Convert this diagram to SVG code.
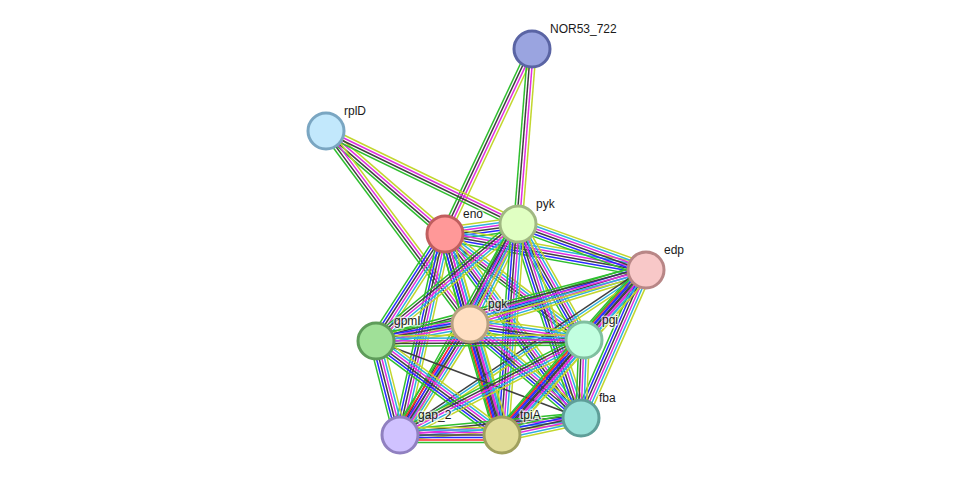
<svg xmlns="http://www.w3.org/2000/svg" width="976" height="481" viewBox="0 0 976 481">
<style>
.g{stroke:#2fbf2f}.r{stroke:#ff2a2a}.b{stroke:#2a2aff}.k{stroke:#404040}.m{stroke:#e02ee0}.c{stroke:#2eb0e0}.y{stroke:#c2d62e}
defs line{stroke-width:1.5;fill:none}
.nd{stroke-width:3}
.lb{font-family:"Liberation Sans",Arial,sans-serif;font-size:12px;fill:#1a1a1a;stroke:#fff;stroke-width:3;stroke-opacity:0.6;paint-order:stroke;stroke-linejoin:round}
</style>
<defs>
<g id="s4"><line class="g" x2="1" y1="4.2" y2="4.2"/><line class="k" x2="1" y1="1.4" y2="1.4"/><line class="m" x2="1" y1="-1.4" y2="-1.4"/><line class="y" x2="1" y1="-4.2" y2="-4.2"/></g>
<g id="s3"><line class="k" x2="1" y1="2.5" y2="2.5"/><line class="c" x2="1" y1="0" y2="0"/><line class="y" x2="1" y1="-2.5" y2="-2.5"/></g>
<g id="s1"><line class="k" x2="1" y1="0" y2="0"/></g>
<g id="s5"><line class="g" x2="1" y1="5.2" y2="5.2"/><line class="k" x2="1" y1="2.6" y2="2.6"/><line class="m" x2="1" y1="0" y2="0"/><line class="c" x2="1" y1="-2.6" y2="-2.6"/><line class="y" x2="1" y1="-5.2" y2="-5.2"/></g>
<g id="s6"><line class="g" x2="1" y1="6.5" y2="6.5"/><line class="b" x2="1" y1="3.9" y2="3.9"/><line class="k" x2="1" y1="1.3" y2="1.3"/><line class="m" x2="1" y1="-1.3" y2="-1.3"/><line class="c" x2="1" y1="-3.9" y2="-3.9"/><line class="y" x2="1" y1="-6.5" y2="-6.5"/></g>
<g id="s7"><line class="g" x2="1" y1="7.5" y2="7.5"/><line class="r" x2="1" y1="5" y2="5"/><line class="b" x2="1" y1="2.5" y2="2.5"/><line class="k" x2="1" y1="0" y2="0"/><line class="m" x2="1" y1="-2.5" y2="-2.5"/><line class="c" x2="1" y1="-5" y2="-5"/><line class="y" x2="1" y1="-7.5" y2="-7.5"/></g>
</defs>
<rect width="976" height="481" fill="#fff"/>
<g id="connectors">
<use href="#s4" transform="translate(532 49) rotate(115.19) scale(204.4 1)"/>
<use href="#s4" transform="translate(532 49) rotate(94.57) scale(175.56 1)"/>
<use href="#s4" transform="translate(326 131) rotate(40.88) scale(157.4 1)"/>
<use href="#s4" transform="translate(326 131) rotate(25.84) scale(213.3 1)"/>
<use href="#s4" transform="translate(326 131) rotate(53.27) scale(240.8 1)"/>
<use href="#s6" transform="translate(445 234) rotate(-7.80) scale(73.68 1)"/>
<use href="#s6" transform="translate(445 234) rotate(10.15) scale(204.2 1)"/>
<use href="#s6" transform="translate(445 234) rotate(74.48) scale(93.41 1)"/>
<use href="#s6" transform="translate(445 234) rotate(122.82) scale(127.3 1)"/>
<use href="#s5" transform="translate(445 234) rotate(37.33) scale(174.8 1)"/>
<use href="#s6" transform="translate(445 234) rotate(53.53) scale(228.8 1)"/>
<use href="#s6" transform="translate(445 234) rotate(102.62) scale(206.0 1)"/>
<use href="#s6" transform="translate(445 234) rotate(74.17) scale(208.9 1)"/>
<use href="#s6" transform="translate(518 224) rotate(19.77) scale(136.0 1)"/>
<use href="#s6" transform="translate(518 224) rotate(115.64) scale(110.9 1)"/>
<use href="#s5" transform="translate(518 224) rotate(140.51) scale(184.0 1)"/>
<use href="#s6" transform="translate(518 224) rotate(60.36) scale(133.5 1)"/>
<use href="#s6" transform="translate(518 224) rotate(72.01) scale(204.0 1)"/>
<use href="#s5" transform="translate(518 224) rotate(119.21) scale(241.8 1)"/>
<use href="#s6" transform="translate(518 224) rotate(94.34) scale(211.6 1)"/>
<use href="#s6" transform="translate(646 270) rotate(162.94) scale(184.1 1)"/>
<use href="#s5" transform="translate(646 270) rotate(165.27) scale(279.2 1)"/>
<use href="#s7" transform="translate(646 270) rotate(131.53) scale(93.5 1)"/>
<use href="#s6" transform="translate(646 270) rotate(113.71) scale(161.6 1)"/>
<use href="#s3" transform="translate(646 270) rotate(146.15) scale(296.2 1)"/>
<use href="#s6" transform="translate(646 270) rotate(131.11) scale(219.0 1)"/>
<use href="#s6" transform="translate(470 324) rotate(169.75) scale(95.5 1)"/>
<use href="#s6" transform="translate(470 324) rotate(7.99) scale(115.1 1)"/>
<use href="#s6" transform="translate(470 324) rotate(40.26) scale(145.5 1)"/>
<use href="#s7" transform="translate(470 324) rotate(122.23) scale(131.2 1)"/>
<use href="#s7" transform="translate(470 324) rotate(73.92) scale(115.5 1)"/>
<use href="#s5" transform="translate(376 341) rotate(-0.28) scale(208.0 1)"/>
<use href="#s1" transform="translate(376 341) rotate(20.59) scale(219.0 1)"/>
<use href="#s6" transform="translate(376 341) rotate(75.68) scale(97.0 1)"/>
<use href="#s6" transform="translate(376 341) rotate(36.72) scale(157.2 1)"/>
<use href="#s5" transform="translate(584 340) rotate(92.20) scale(78.06 1)"/>
<use href="#s5" transform="translate(584 340) rotate(152.69) scale(207.1 1)"/>
<use href="#s7" transform="translate(584 340) rotate(130.80) scale(125.5 1)"/>
<use href="#s5" transform="translate(581 418) rotate(174.63) scale(181.8 1)"/>
<use href="#s6" transform="translate(581 418) rotate(167.86) scale(80.8 1)"/>
<use href="#s7" transform="translate(400 435) rotate(0) scale(102 1)"/>
</g>
<g id="NOR53_722"><circle class="nd" cx="532" cy="49" r="18" fill="#9aa4e0" stroke="#5a64a4"/><text class="lb" x="550" y="33">NOR53_722</text></g>
<g id="rplD"><circle class="nd" cx="326" cy="131" r="18" fill="#c2e8fc" stroke="#7aa6c2"/><text class="lb" x="344" y="115">rplD</text></g>
<g id="eno"><circle class="nd" cx="445" cy="234" r="18" fill="#ff9898" stroke="#c05e5e"/><text class="lb" x="463" y="218">eno</text></g>
<g id="pyk"><circle class="nd" cx="518" cy="224" r="18" fill="#e0ffc2" stroke="#a0b882"/><text class="lb" x="536" y="208">pyk</text></g>
<g id="edp"><circle class="nd" cx="646" cy="270" r="18" fill="#f8c8c8" stroke="#b88686"/><text class="lb" x="664" y="254">edp</text></g>
<g id="pgk"><circle class="nd" cx="470" cy="324" r="18" fill="#ffdfc2" stroke="#b8a080"/><text class="lb" x="488" y="308">pgk</text></g>
<g id="gpmI"><circle class="nd" cx="376" cy="341" r="18" fill="#a0e098" stroke="#5e9c5a"/><text class="lb" x="394" y="325">gpmI</text></g>
<g id="pgi"><circle class="nd" cx="584" cy="340" r="18" fill="#c2ffe0" stroke="#80c0a0"/><text class="lb" x="602" y="324">pgi</text></g>
<g id="fba"><circle class="nd" cx="581" cy="418" r="18" fill="#98e0d8" stroke="#5e9e98"/><text class="lb" x="599" y="402">fba</text></g>
<g id="gap_2"><circle class="nd" cx="400" cy="435" r="18" fill="#d0c2ff" stroke="#9080c0"/><text class="lb" x="418" y="419">gap_2</text></g>
<g id="tpiA"><circle class="nd" cx="502" cy="435" r="18" fill="#e0dc98" stroke="#a0a05e"/><text class="lb" x="520" y="419">tpiA</text></g>
</svg>
